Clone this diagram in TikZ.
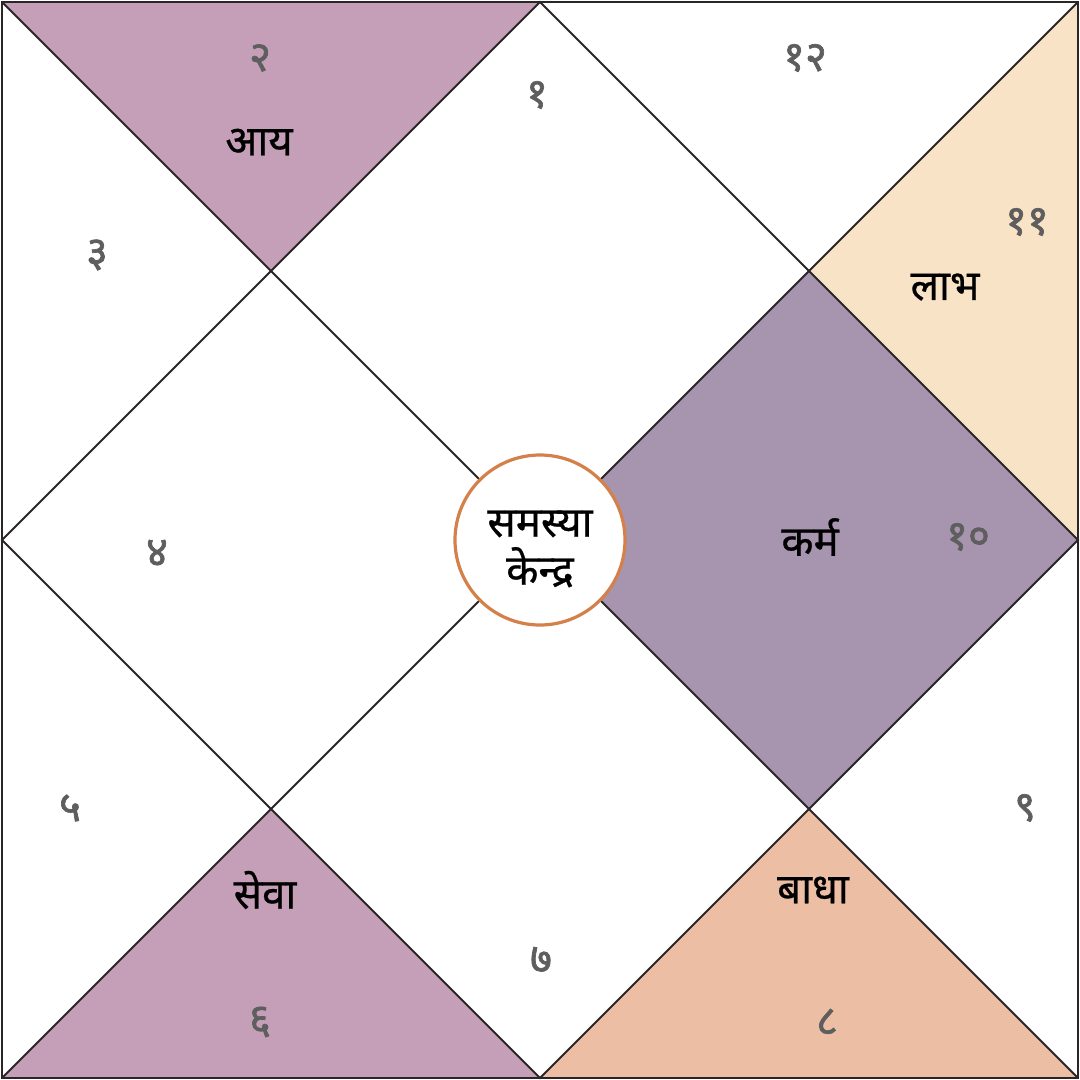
\documentclass[tikz,border=0pt]{standalone}
\usepackage{fontspec}
\newfontfamily\deva[Script=Devanagari,FakeBold=0.6]{Noto Sans}
\newfontfamily\devab[Script=Devanagari,FakeBold=1.6]{Noto Sans}
\definecolor{pinkp}{HTML}{C59FB7}
\definecolor{beige}{HTML}{F8E3C6}
\definecolor{mauve}{HTML}{A794AE}
\definecolor{peach}{HTML}{ECBFA5}
\definecolor{numgray}{HTML}{5E5E5E}
\definecolor{ringc}{HTML}{D4804A}
\definecolor{linec}{HTML}{2A2628}
\tikzset{
  num/.style={text=numgray, font=\devab\fontsize{42}{46}\selectfont, inner sep=0pt},
  lbl/.style={text=black, font=\deva\fontsize{42}{48}\selectfont, inner sep=0pt},
  chartline/.style={draw=linec, line width=2pt},
}
\begin{document}
\begin{tikzpicture}[x=1pt,y=-1pt]
\useasboundingbox (0,0) rectangle (1080,1080);
\fill[white] (0,0) rectangle (1080,1080);
% corner points
\coordinate (TL) at (2,2);
\coordinate (TR) at (1078,2);
\coordinate (BR) at (1078,1078);
\coordinate (BL) at (2,1078);
\coordinate (T) at (540,2);
\coordinate (R) at (1078,540);
\coordinate (B) at (540,1078);
\coordinate (L) at (2,540);
\coordinate (C) at (540,540);
\coordinate (qTL) at (271,271);
\coordinate (qTR) at (809,271);
\coordinate (qBR) at (809,809);
\coordinate (qBL) at (271,809);
% fills
\fill[pinkp] (TL) -- (T) -- (qTL) -- cycle;
\fill[beige] (TR) -- (R) -- (qTR) -- cycle;
\fill[mauve] (qTR) -- (R) -- (qBR) -- (C) -- cycle;
\fill[pinkp] (BL) -- (B) -- (qBL) -- cycle;
\fill[peach] (B) -- (BR) -- (qBR) -- cycle;
% lines
\draw[chartline] (TL) -- (BR);
\draw[chartline] (TR) -- (BL);
\draw[chartline] (T) -- (R) -- (B) -- (L) -- cycle;
\draw[draw=linec, line width=2.6pt] (TL) rectangle (BR);
% centre
\node[circle, draw=ringc, line width=3.2pt, fill=white, minimum size=170pt, inner sep=0pt] (ctr) at (C) {};
\node[lbl, align=center] (ctrtxt) at (540,549) {समस्या\\[0pt]केन्द्र};
% numbers
\node[num] (n1) at (537,95) {१};
\node[num] (n2) at (260,58) {२};
\node[num] (n3) at (97,255) {३};
\node[num] (n4) at (157,553) {४};
\node[num] (n5) at (70,808) {५};
\node[num] (n6) at (260,1022) {६};
\node[num] (n7) at (541,960) {७};
\node[num] (n8) at (827,1022) {८};
\node[num] (n9) at (1025,808) {९};
\node[num] (n10) at (968,537) {१०};
\node[num] (n11) at (1027,222) {११};
\node[num] (n12) at (805,58) {१२};
% labels
\node[lbl] (aay) at (259,142) {आय};
\node[lbl] (labh) at (945,287) {लाभ};
\node[lbl] (karm) at (810,537) {कर्म};
\node[lbl] (seva) at (265,890) {सेवा};
\node[lbl] (badha) at (813,890) {बाधा};
\end{tikzpicture}
\end{document}
